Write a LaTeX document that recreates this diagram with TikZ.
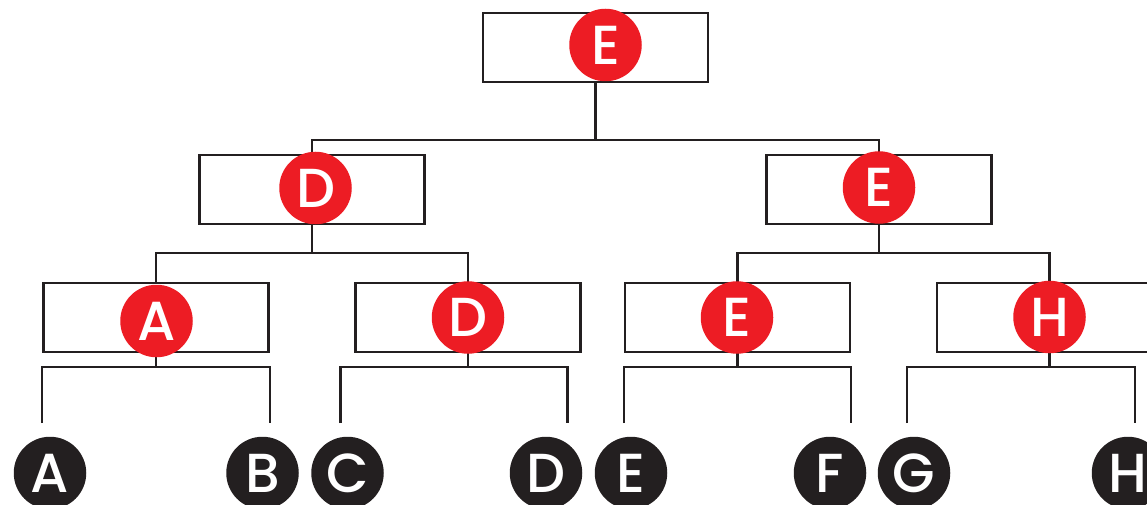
\documentclass[tikz,border=0pt]{standalone}
\usepackage{fontspec}
\IfFontExistsTF{Poppins Medium}
  {\newfontfamily\lbl{Poppins Medium}}
  {\newfontfamily\lbl{Poppins}[FakeBold=1.2]}
\definecolor{ink}{HTML}{231F20}
\definecolor{tokred}{HTML}{ED1C24}
\tikzset{
  frame/.style={draw=ink, line width=2.5pt, rectangle, minimum width=225pt,
    minimum height=69pt, inner sep=0pt, outer sep=0pt},
  link/.style={draw=ink, line width=2.5pt},
  token/.style={circle, minimum size=72.5pt, inner sep=0pt, outer sep=0pt,
    text=white, font=\lbl\fontsize{55}{55}\selectfont},
  winner/.style={token, fill=tokred},
  entrant/.style={token, fill=ink}
}
\begin{document}
\begin{tikzpicture}[x=1pt, y=-1pt]
\useasboundingbox (0,0) rectangle (1147,505);

% match boxes
\node[frame] (top) at (595.5,47.5) {};
\node[frame] (D2) at (312,189.5) {};
\node[frame] (E2) at (879,189.5) {};
\node[frame] (A3) at (156,317.5) {};
\node[frame] (D3) at (468,317.5) {};
\node[frame] (E3) at (737.5,317.5) {};
\node[frame] (H3) at (1049.5,317.5) {};

% bracket rails
\coordinate (b1) at (0,140);
\coordinate (b2) at (0,253);
\coordinate (b3) at (0,367);

% free ends of the first-round legs
\coordinate (la) at (42,423);
\coordinate (lb) at (270,423);
\coordinate (lc) at (340.5,423);
\coordinate (ld) at (567.5,423);
\coordinate (le) at (624,423);
\coordinate (lf) at (851,423);
\coordinate (lg) at (907,423);
\coordinate (lh) at (1135,423);

% final
\draw[link] (top.south) -- (b1 -| top.south);
\draw[link] (D2.north) |- (b1 -| top.south) -| (E2.north);

% semifinals
\draw[link] (D2.south) -- (b2 -| D2.south);
\draw[link] (A3.north) |- (b2 -| D2.south) -| (D3.north);
\draw[link] (E2.south) -- (b2 -| E2.south);
\draw[link] (E3.north) |- (b2 -| E2.south) -| (H3.north);

% first round
\draw[link] (A3.south) -- (b3 -| A3.south);
\draw[link] (la) |- (b3 -| A3.south) -| (lb);
\draw[link] (D3.south) -- (b3 -| D3.south);
\draw[link] (lc) |- (b3 -| D3.south) -| (ld);
\draw[link] (E3.south) -- (b3 -| E3.south);
\draw[link] (le) |- (b3 -| E3.south) -| (lf);
\draw[link] (H3.south) -- (b3 -| H3.south);
\draw[link] (lg) |- (b3 -| H3.south) -| (lh);

% winners
\node[winner] (wtop) at (605.5,45) {E};
\node[winner] (wD2) at (315.5,188) {D};
\node[winner] (wE2) at (879,187.5) {E};
\node[winner] (wA3) at (156.5,321) {A};
\node[winner] (wD3) at (468,317.5) {D};
\node[winner] (wE3) at (737,317.5) {E};
\node[winner] (wH3) at (1049.5,317) {H};

% entrants
\node[entrant] (pA) at (50,473) {A};
\node[entrant] (pB) at (262.5,473) {B};
\node[entrant] (pC) at (347.5,473) {C};
\node[entrant] (pD) at (546,473) {D};
\node[entrant] (pE) at (631,473) {E};
\node[entrant] (pF) at (830,473) {F};
\node[entrant] (pG) at (914,473) {G};
\node[entrant] (pH) at (1128,473) {H};
\end{tikzpicture}
\end{document}
